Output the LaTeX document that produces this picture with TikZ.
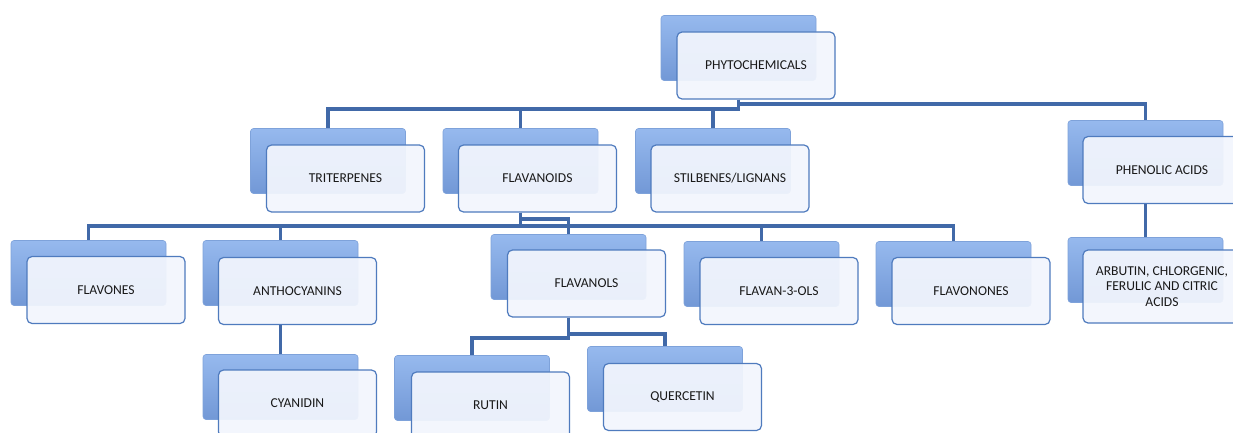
\documentclass[tikz,border=0pt]{standalone}
\usepackage{fontspec}
\setmainfont{Carlito}
\begin{document}
\begin{tikzpicture}[x=1pt,y=-1pt,
  conn/.style={draw=linkblue,line width=3.2pt},
  backbox/.style={rectangle,rounded corners=3pt,minimum width=155pt,minimum height=65pt,
    top color=backtop,bottom color=backbot,draw=backedge,line width=0.6pt},
  frontbox/.style={rectangle,rounded corners=5pt,minimum width=158pt,minimum height=67pt,
    fill=frontfill,fill opacity=0.93,text opacity=1,draw=frontedge,line width=1.2pt,
    font=\fontsize{13.6}{15.5}\selectfont,text=black!90,align=center,inner sep=2pt}]
\definecolor{linkblue}{HTML}{4169A8}
\definecolor{backtop}{HTML}{96B9EE}
\definecolor{backbot}{HTML}{7298D6}
\definecolor{backedge}{HTML}{7EA2DA}
\definecolor{frontfill}{HTML}{F3F6FD}
\definecolor{frontedge}{HTML}{4F7BBE}
\useasboundingbox (0,0) rectangle (1233,433);
\fill[white] (0,0) rectangle (1233,433);
% ---------- back boxes ----------
\node[backbox] (phyto-b) at (738.5,48) {};
\node[backbox] (trit-b) at (328,161) {};
\node[backbox] (flav-b) at (520.5,161) {};
\node[backbox] (stil-b) at (713,161) {};
\node[backbox] (phen-b) at (1145.5,153) {};
\node[backbox] (arb-b) at (1145.5,270) {};
\node[backbox] (flvn-b) at (88.5,273) {};
\node[backbox] (anth-b) at (280.5,273) {};
\node[backbox] (flvl-b) at (568.5,267) {};
\node[backbox] (f3ol-b) at (761.5,274) {};
\node[backbox] (flvo-b) at (953.5,274) {};
\node[backbox] (cyan-b) at (280.5,387) {};
\node[backbox] (rutin-b) at (472,388) {};
\node[backbox] (quer-b) at (665,379) {};
% ---------- front boxes ----------
\node[frontbox] (phyto) at (756,65.5) {PHYTOCHEMICALS};
\node[frontbox] (trit) at (345.5,178.5) {TRITERPENES};
\node[frontbox] (flav) at (537.5,178.5) {FLAVANOIDS};
\node[frontbox] (stil) at (730,178.5) {STILBENES/LIGNANS};
\node[frontbox] (phen) at (1162,170) {PHENOLIC ACIDS};
\node[frontbox,minimum height=73pt] (arb) at (1162,286.5) {ARBUTIN, CHLORGENIC,\\FERULIC AND CITRIC\\ACIDS};
\node[frontbox] (flvn) at (106,290) {FLAVONES};
\node[frontbox] (anth) at (297.5,291) {ANTHOCYANINS};
\node[frontbox] (flvl) at (586.5,283.5) {FLAVANOLS};
\node[frontbox] (f3ol) at (779,291) {FLAVAN-3-OLS};
\node[frontbox] (flvo) at (971,291) {FLAVONONES};
\node[frontbox] (cyan) at (297.5,403.5) {CYANIDIN};
\node[frontbox] (rutin) at (490.5,405.5) {RUTIN};
\node[frontbox] (quer) at (682.5,397) {QUERCETIN};
% ---------- connectors ----------
\draw[conn] (phyto-b.center |- phyto.south) -- (phyto-b.center |- 0,109) -| (trit-b.north);
\draw[conn] (flav-b.north) -- (flav-b.north |- 0,109);
\draw[conn] (stil-b.north) -- (stil-b.north |- 0,109);
\draw[conn] (phyto-b.center |- phyto.south) -- (phyto-b.center |- 0,104) -| (phen-b.north);
\draw[conn] (phen-b.center |- phen.south) -- (arb-b.north);
\draw[conn] (flav-b.center |- flav.south) -- (flav-b.center |- 0,226) -| (flvn-b.north);
\draw[conn] (flav-b.center |- 0,226) -| (anth-b.north);
\draw[conn] (flav-b.center |- 0,226) -| (f3ol-b.north);
\draw[conn] (flav-b.center |- 0,226) -| (flvo-b.north);
\draw[conn] (flav-b.center |- flav.south) -- (flav-b.center |- 0,219) -| (flvl-b.north);
\draw[conn] (anth-b.center |- anth.south) -- (cyan-b.north);
\draw[conn] (flvl-b.center |- flvl.south) -- (flvl-b.center |- 0,338) -| (rutin-b.north);
\draw[conn] (flvl-b.center |- flvl.south) -- (flvl-b.center |- 0,334) -| (quer-b.north);
\end{tikzpicture}
\end{document}
